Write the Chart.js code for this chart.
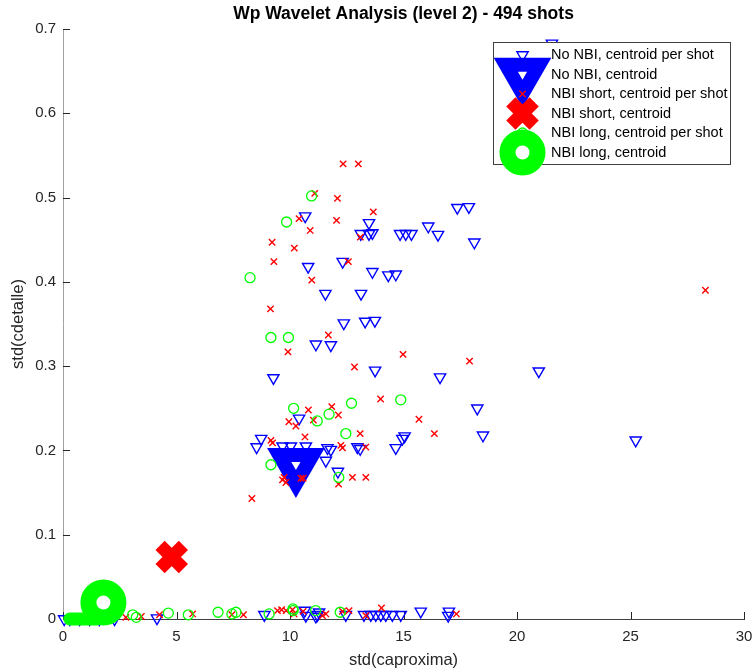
<!DOCTYPE html>
<html>
<head>
<meta charset="utf-8">
<title>Wp Wavelet Analysis (level 2)</title>
<script src="https://cdn.jsdelivr.net/npm/chart.js@4.4.1/dist/chart.umd.min.js"></script>
<style>
  html, body { margin: 0; padding: 0; background: #fff; }
  #wrap { width: 753px; height: 672px; }
</style>
</head>
<body>
<div id="wrap"><canvas id="waveletChart" width="753" height="672"></canvas></div>
<script>
// std(caproxima) / std(cdetalle) per shot, split by heating scenario
const noNbiX = [21.54, 10.67, 13.48, 13.12, 13.48, 13.63, 14.85, 15.10, 15.35, 16.09, 16.52, 17.37, 17.88, 18.12,
  10.80, 12.32, 13.63, 14.33, 14.66, 11.56, 13.13, 12.37, 13.31, 13.74, 11.14, 11.80, 13.75, 9.27, 16.61, 20.96,
  18.25, 18.50, 25.23, 10.40, 8.73, 8.53, 9.67, 10.04, 10.70, 11.65, 11.80, 11.58, 12.11, 12.97, 13.09, 14.66,
  14.95, 15.05,
  0.05, 0.30, 0.73, 1.17, 1.60, 2.27, 4.14, 8.87, 10.65, 10.70, 11.14, 11.21, 11.28, 12.46, 13.26, 13.56, 13.78,
  14.00, 14.22, 14.51, 14.88, 15.76, 17.00, 16.97];
const noNbiY = [0.683, 0.478, 0.470, 0.457, 0.457, 0.458, 0.457, 0.457, 0.457, 0.466, 0.456, 0.488, 0.489, 0.447,
  0.418, 0.424, 0.412, 0.408, 0.409, 0.386, 0.386, 0.351, 0.353, 0.354, 0.326, 0.325, 0.295, 0.286, 0.287, 0.294,
  0.250, 0.218, 0.212, 0.238, 0.214, 0.204, 0.205, 0.205, 0.205, 0.203, 0.201, 0.188, 0.175, 0.204, 0.202, 0.203,
  0.214, 0.217,
  0.000, 0.000, 0.000, 0.000, 0.000, 0.000, 0.001, 0.005, 0.010, 0.004, 0.003, 0.005, 0.008, 0.005, 0.005, 0.005,
  0.005, 0.005, 0.005, 0.005, 0.005, 0.009, 0.009, 0.004];

const nbiShortX = [12.34, 13.01, 11.09, 12.09, 13.67, 10.40, 12.05, 10.89, 9.21, 10.19, 13.10, 9.29, 12.57, 10.96,
  9.14, 11.69, 9.91, 14.98, 17.91, 12.84, 28.30, 13.99, 15.68, 16.36, 10.81, 11.84, 12.13, 9.95, 10.26, 11.03,
  10.66, 13.09, 9.16, 9.23, 12.24, 12.31, 13.34, 9.74, 9.67, 9.82, 10.48, 10.58, 12.14, 12.75, 13.34, 8.32,
  2.77, 3.45, 4.25, 5.71, 7.44, 7.95, 9.45, 9.63, 9.83, 10.11, 10.18, 10.58, 11.43, 11.58, 12.31, 12.60, 13.34,
  14.03, 17.33];
const nbiShortY = [0.540, 0.540, 0.505, 0.499, 0.483, 0.475, 0.473, 0.461, 0.447, 0.440, 0.453, 0.424, 0.424, 0.402,
  0.368, 0.337, 0.317, 0.314, 0.306, 0.299, 0.390, 0.261, 0.237, 0.220, 0.248, 0.252, 0.242, 0.234, 0.229, 0.236,
  0.216, 0.220, 0.212, 0.209, 0.206, 0.203, 0.204, 0.168, 0.165, 0.162, 0.167, 0.167, 0.160, 0.168, 0.168, 0.143,
  0.002, 0.003, 0.005, 0.006, 0.005, 0.005, 0.010, 0.011, 0.010, 0.011, 0.006, 0.009, 0.004, 0.006, 0.009, 0.010,
  0.004, 0.013, 0.006];

const nbiLongX = [10.95, 9.85, 8.24, 9.16, 9.93, 10.16, 11.20, 11.72, 12.71, 14.88, 12.46, 9.16, 12.15,
  3.07, 3.23, 4.64, 5.52, 6.83, 7.44, 7.62, 9.08, 10.13, 10.14, 11.13, 12.21];
const nbiLongY = [0.502, 0.471, 0.405, 0.334, 0.334, 0.250, 0.235, 0.243, 0.256, 0.260, 0.220, 0.183, 0.168,
  0.005, 0.002, 0.007, 0.005, 0.008, 0.006, 0.008, 0.006, 0.012, 0.010, 0.010, 0.008];

// group centroids
const noNbiCentroid = [10.26, 0.183];
const nbiShortCentroid = [4.79, 0.0735];
const nbiLongCentroid = [1.78, 0.0196];
// thick green stroke running along the x axis into the NBI long centroid
const nbiLongTrailX = [0.30, 1.50];
const nbiLongTrailY = [0.000, 0.000];

const xTicks = [0, 5, 10, 15, 20, 25, 30];
const xTickLabels = ['0', '5', '10', '15', '20', '25', '30'];
const yTicks = [0, 0.1, 0.2, 0.3, 0.4, 0.5, 0.6, 0.7];
const yTickLabels = ['0', '0.1', '0.2', '0.3', '0.4', '0.5', '0.6', '0.7'];
const chartTitle = 'Wp Wavelet Analysis (level 2) - 494 shots';

const FONT = "'Liberation Sans', Arial, Helvetica, sans-serif";
const BLUE = '#0000ff', RED = '#ff0000', GREEN = '#00ff00', NONE = 'rgba(0,0,0,0)';

const toPoints = (xs, ys) => xs.map((x, i) => ({ x: x, y: ys[i] }));

// inward tick marks, drawn under the markers
const insideTicks = {
    id: 'insideTicks',
    beforeDatasetsDraw(chart) {
        const { ctx, chartArea, scales: { x, y } } = chart;
        ctx.save();
        ctx.strokeStyle = '#262626';
        ctx.lineWidth = 1;
        ctx.beginPath();
        xTicks.forEach(v => {
            const px = Math.round(x.getPixelForValue(v)) + 0.5;
            ctx.moveTo(px, chartArea.bottom);
            ctx.lineTo(px, chartArea.bottom - 7);
        });
        yTicks.forEach(v => {
            const py = Math.round(y.getPixelForValue(v)) + 0.5;
            ctx.moveTo(chartArea.left, py);
            ctx.lineTo(chartArea.left + 7, py);
        });
        ctx.stroke();
        ctx.restore();
    }
};

// title centred over the axes rather than the whole canvas
const axesTitle = {
    id: 'axesTitle',
    afterDraw(chart) {
        const { ctx, chartArea } = chart;
        ctx.save();
        ctx.fillStyle = '#000';
        ctx.font = 'bold 17.5px ' + FONT;
        ctx.textAlign = 'center';
        ctx.textBaseline = 'middle';
        ctx.fillText(chartTitle, (chartArea.left + chartArea.right) / 2, 14);
        ctx.restore();
    }
};

// boxed legend in the upper right, markers drawn at their plotted size
const boxLegend = {
    id: 'boxLegend',
    afterDatasetsDraw(chart) {
        const ctx = chart.ctx;
        const box = { left: 493.5, top: 42.5, width: 237, height: 122 };
        const markerX = 522.5, textX = 551, firstRow = 55, rowStep = 19.5;
        const items = chart.data.datasets.filter(ds => ds.label);

        ctx.save();
        ctx.fillStyle = '#fff';
        ctx.fillRect(box.left, box.top, box.width, box.height);
        ctx.strokeStyle = '#404040';
        ctx.lineWidth = 1;
        ctx.strokeRect(box.left, box.top, box.width, box.height);

        items.forEach((ds, i) => {
            ctx.save();
            ctx.fillStyle = ds.pointBackgroundColor;
            ctx.strokeStyle = ds.pointBorderColor;
            ctx.lineWidth = ds.pointBorderWidth;
            Chart.helpers.drawPoint(ctx, {
                pointStyle: ds.pointStyle,
                rotation: ds.pointRotation || 0,
                radius: ds.pointRadius,
                borderWidth: ds.pointBorderWidth
            }, markerX, firstRow + i * rowStep);
            ctx.restore();
        });

        ctx.fillStyle = '#000';
        ctx.font = '14.5px ' + FONT;
        ctx.textAlign = 'left';
        ctx.textBaseline = 'middle';
        items.forEach((ds, i) => ctx.fillText(ds.label, textX, firstRow + i * rowStep));
        ctx.restore();
    }
};

new Chart(document.getElementById('waveletChart'), {
    type: 'scatter',
    data: {
        datasets: [
            {
                label: 'No NBI, centroid per shot',
                data: toPoints(noNbiX, noNbiY),
                pointStyle: 'triangle', pointRotation: 180, pointRadius: 6.5,
                pointBorderWidth: 1.4, pointBorderColor: BLUE, pointBackgroundColor: NONE,
                clip: false, order: 6
            },
            {
                label: 'No NBI, centroid',
                data: [{ x: noNbiCentroid[0], y: noNbiCentroid[1] }],
                pointStyle: 'triangle', pointRotation: 180, pointRadius: 19.3,
                pointBorderWidth: 14, pointBorderColor: BLUE, pointBackgroundColor: '#fff',
                clip: false, order: 5
            },
            {
                label: 'NBI short, centroid per shot',
                data: toPoints(nbiShortX, nbiShortY),
                pointStyle: 'crossRot', pointRadius: 4.5,
                pointBorderWidth: 1.4, pointBorderColor: RED, pointBackgroundColor: NONE,
                clip: false, order: 4
            },
            {
                label: 'NBI short, centroid',
                data: [{ x: nbiShortCentroid[0], y: nbiShortCentroid[1] }],
                pointStyle: 'crossRot', pointRadius: 16.5,
                pointBorderWidth: 13, pointBorderColor: RED, pointBackgroundColor: NONE,
                clip: false, order: 3
            },
            {
                label: 'NBI long, centroid per shot',
                data: toPoints(nbiLongX, nbiLongY),
                pointStyle: 'circle', pointRadius: 5,
                pointBorderWidth: 1.3, pointBorderColor: GREEN, pointBackgroundColor: NONE,
                clip: false, order: 2
            },
            {
                label: 'NBI long, centroid',
                data: [{ x: nbiLongCentroid[0], y: nbiLongCentroid[1] }],
                pointStyle: 'circle', pointRadius: 15,
                pointBorderWidth: 16, pointBorderColor: GREEN, pointBackgroundColor: '#fff',
                clip: false, order: 1
            },
            {
                type: 'line',
                data: toPoints(nbiLongTrailX, nbiLongTrailY),
                showLine: true, pointRadius: 0,
                borderColor: GREEN, borderWidth: 13, borderCapStyle: 'round',
                clip: false, order: 0
            }
        ]
    },
    options: {
        responsive: false,
        animation: false,
        events: [],
        layout: { autoPadding: false, padding: { left: 0, right: 9, top: 29, bottom: 0 } },
        plugins: {
            legend: { display: false },
            tooltip: { enabled: false },
            title: { display: false }
        },
        scales: {
            x: {
                type: 'linear', min: 0, max: 30,
                afterBuildTicks: s => { s.ticks = xTicks.map(v => ({ value: v })); },
                afterFit: s => { s.height = 53; s.paddingLeft = 0; s.paddingRight = 0; },
                grid: { display: false, drawTicks: false },
                border: { display: true, color: '#404040', width: 1 },
                ticks: {
                    color: '#262626', font: { family: FONT, size: 15 }, padding: 9,
                    autoSkip: false, maxRotation: 0,
                    callback: (v, i) => xTickLabels[i]
                },
                title: {
                    display: true, text: 'std(caproxima)', color: '#262626',
                    font: { family: FONT, size: 16.5 }, padding: { top: 0, bottom: 2 }
                }
            },
            y: {
                type: 'linear', min: 0, max: 0.7,
                afterBuildTicks: s => { s.ticks = yTicks.map(v => ({ value: v })); },
                afterFit: s => { s.width = 63; s.paddingTop = 0; s.paddingBottom = 0; },
                grid: { display: false, drawTicks: false },
                border: { display: true, color: '#a0a0a0', width: 1 },
                ticks: {
                    color: '#262626', font: { family: FONT, size: 15 }, padding: 7,
                    autoSkip: false,
                    callback: (v, i) => yTickLabels[i]
                },
                title: {
                    display: true, text: 'std(cdetalle)', color: '#262626',
                    font: { family: FONT, size: 16.5 }, padding: { top: 9, bottom: 0 }
                }
            }
        }
    },
    plugins: [insideTicks, boxLegend, axesTitle]
});
</script>
</body>
</html>
